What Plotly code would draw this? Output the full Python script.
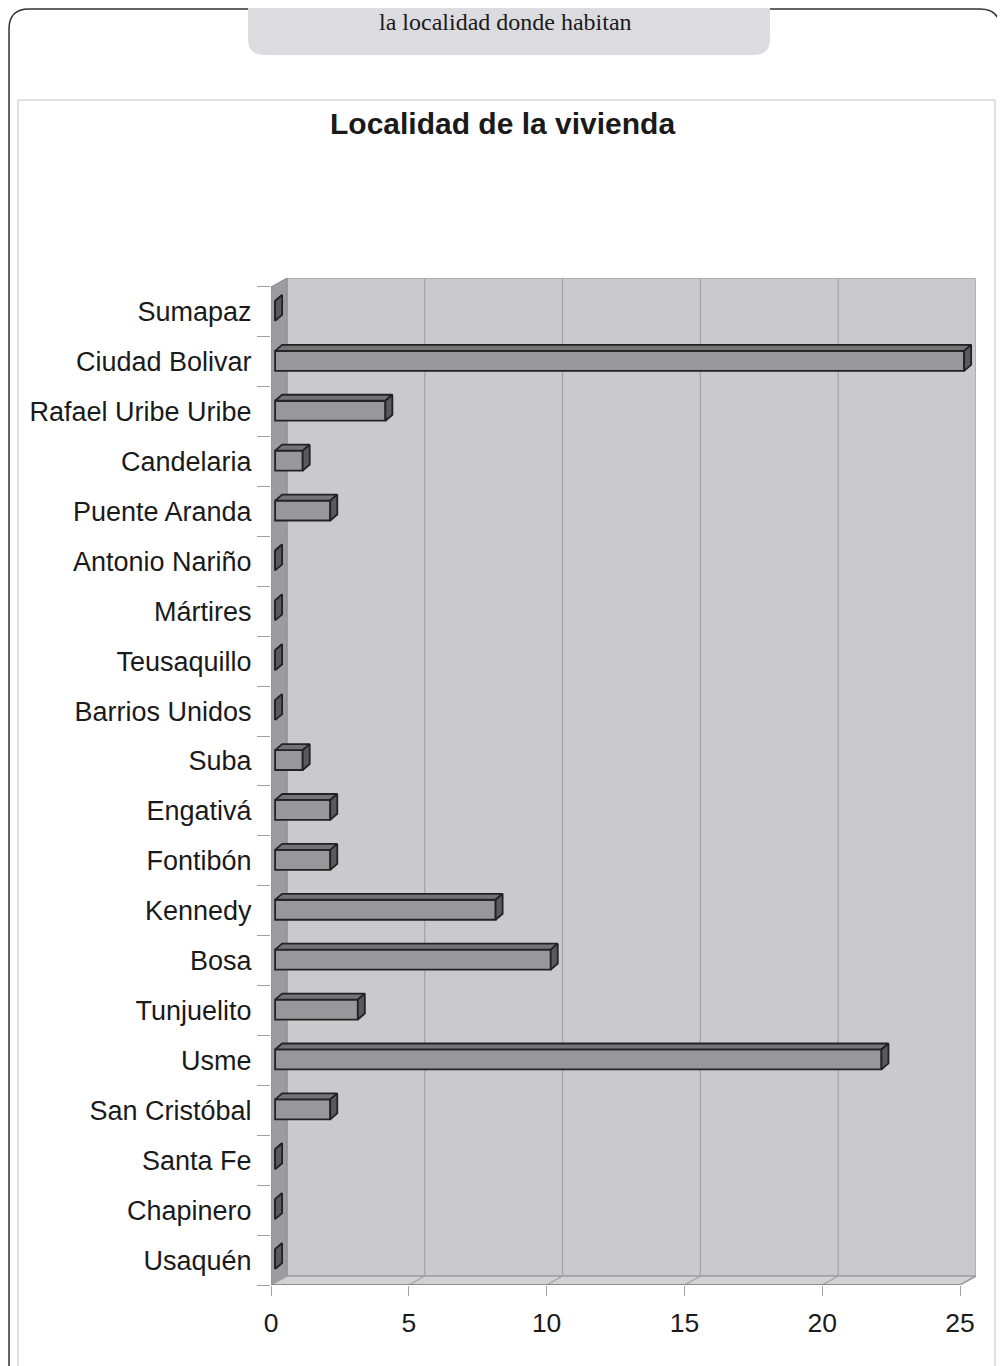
import plotly.graph_objects as go

# ---------------- data ----------------
localidades = ["Usaquén", "Chapinero", "Santa Fe", "San Cristóbal", "Usme",
               "Tunjuelito", "Bosa", "Kennedy", "Fontibón", "Engativá", "Suba",
               "Barrios Unidos", "Teusaquillo", "Mártires", "Antonio Nariño",
               "Puente Aranda", "Candelaria", "Rafael Uribe Uribe",
               "Ciudad Bolivar", "Sumapaz"]
estudiantes = [0, 0, 0, 2, 22, 3, 10, 8, 2, 2, 1, 0, 0, 0, 0, 2, 1, 4, 25, 0]
x_ticks = [0, 5, 10, 15, 20, 25]
titulo = "Localidad de la vivienda"
encabezado = "la localidad donde habitan"

# ---------------- geometry / style ----------------
OFF = 8                      # page body margin of the html output
W, H = 1005 - OFF, 1366 - OFF
PL, PR, PT, PB = 271, 976, 278, 1285   # plot area in window pixels
ML, MR, MT, MB = PL - OFF, W + OFF - PR, PT - OFF, H + OFF - PB
WX, WY = 0.58, 0.18          # depth of the 3D walls (data units)
DX, DY = 0.254, 0.12         # depth of the 3D bars
B0 = 0.15                    # bar start offset
LO, HI = -0.18, 0.22         # bar front face extent around category
XMAX = x_ticks[-1] + WX
YMIN, YMAX = -0.5, len(localidades) - 0.5 + WY
FONT = "Liberation Sans, Arial, sans-serif"

pos = list(range(len(localidades)))


def px(p):
    return (p - PL) / (PR - PL)


def py(p):
    return (PB - p) / (PB - PT)


fig = go.Figure()

# front faces of bars
fig.add_trace(go.Bar(
    orientation="h", y=pos, x=estudiantes, base=B0, width=HI - LO, offset=LO,
    marker=dict(color="#98989c", line=dict(color="#222222", width=1.8)),
    hoverinfo="skip", showlegend=False))

# top and side faces
top_x, top_y, side_x, side_y = [], [], [], []
for c, v in zip(pos, estudiantes):
    t = c + HI
    b = c + LO
    top_x += [B0, B0 + DX, B0 + v + DX, B0 + v, B0, None]
    top_y += [t, t + DY, t + DY, t, t, None]
    side_x += [B0 + v, B0 + v, B0 + v + DX, B0 + v + DX, B0 + v, None]
    side_y += [b, t, t + DY, b + DY, b, None]

fig.add_trace(go.Scatter(x=top_x, y=top_y, mode="lines", fill="toself",
                         fillcolor="#747478",
                         line=dict(color="#222222", width=1.8),
                         hoverinfo="skip", showlegend=False))
fig.add_trace(go.Scatter(x=side_x, y=side_y, mode="lines", fill="toself",
                         fillcolor="#5a5a5e",
                         line=dict(color="#222222", width=1.8),
                         hoverinfo="skip", showlegend=False))

shapes = []
# back wall
shapes.append(dict(type="rect", xref="x", yref="y", layer="below",
                   x0=WX, x1=XMAX, y0=YMIN + WY, y1=YMAX,
                   fillcolor="#cacacd", line=dict(color="#a8a8aa", width=1.5)))
# left wall
shapes.append(dict(type="path", xref="x", yref="y", layer="below",
                   path=f"M 0 {YMIN} L {WX} {YMIN + WY} L {WX} {YMAX} L 0 {YMAX - WY} Z",
                   fillcolor="#9c9ca0", line=dict(color="#8c8c90", width=1)))
# floor
shapes.append(dict(type="path", xref="x", yref="y", layer="below",
                   path=f"M 0 {YMIN} L {WX} {YMIN + WY} L {XMAX} {YMIN + WY} L {x_ticks[-1]} {YMIN} Z",
                   fillcolor="#d2d2d5", line=dict(color="#a0a0a3", width=1.5)))
# grid lines on back wall and floor
for t in x_ticks[1:-1]:
    shapes.append(dict(type="line", xref="x", yref="y", layer="below",
                       x0=t + WX, x1=t + WX, y0=YMIN + WY, y1=YMAX,
                       line=dict(color="#a2a2a4", width=1.2)))
for t in x_ticks[1:]:
    shapes.append(dict(type="line", xref="x", yref="y", layer="below",
                       x0=t, x1=t + WX, y0=YMIN, y1=YMIN + WY,
                       line=dict(color="#a2a2a4", width=1.2)))
# front floor edge
shapes.append(dict(type="line", xref="x", yref="y", layer="below",
                   x0=0, x1=x_ticks[-1], y0=YMIN, y1=YMIN,
                   line=dict(color="#8c8c8e", width=2)))

# page decorations: outer rounded frame, inner chart frame, header tab
r = 20
L, T, R, Bt = 9, 9, 1000, 1420
shapes.append(dict(type="path", xref="paper", yref="paper", layer="above",
                   path=(f"M {px(L)} {py(Bt)} L {px(L)} {py(T + r)} "
                         f"Q {px(L)} {py(T)} {px(L + r)} {py(T)} "
                         f"L {px(R - r)} {py(T)} Q {px(R)} {py(T)} {px(R)} {py(T + r)} "
                         f"L {px(R)} {py(Bt)}"),
                   line=dict(color="#333333", width=1.5)))
shapes.append(dict(type="rect", xref="paper", yref="paper", layer="above",
                   x0=px(18), x1=px(995), y0=py(1420), y1=py(100),
                   line=dict(color="#c4c4c4", width=1)))
hr = 16
HL, HR, HT, HB = 248, 770, -30, 55
shapes.append(dict(type="path", xref="paper", yref="paper", layer="above",
                   path=(f"M {px(HL)} {py(HT)} L {px(HL)} {py(HB - hr)} "
                         f"Q {px(HL)} {py(HB)} {px(HL + hr)} {py(HB)} "
                         f"L {px(HR - hr)} {py(HB)} Q {px(HR)} {py(HB)} {px(HR)} {py(HB - hr)} "
                         f"L {px(HR)} {py(HT)} Z"),
                   fillcolor="#dcdce0", line=dict(width=0)))

annotations = [
    dict(text=f"<b>{titulo}</b>", xref="paper", yref="paper",
         x=px(502), y=py(123), xanchor="center", yanchor="middle",
         showarrow=False, font=dict(family=FONT, size=30, color="#1a1a1a")),
    dict(text=encabezado, xref="paper", yref="paper",
         x=px(505), y=py(22), xanchor="center", yanchor="middle",
         showarrow=False,
         font=dict(family="Liberation Serif, Times New Roman, serif",
                   size=24, color="#1a1a1a")),
]

fig.update_layout(
    width=W, height=H,
    margin=dict(l=ML, r=MR, t=MT, b=MB, pad=0),
    paper_bgcolor="white", plot_bgcolor="rgba(0,0,0,0)",
    barmode="overlay", showlegend=False,
    shapes=shapes, annotations=annotations,
    xaxis=dict(range=[0, XMAX], tickvals=x_ticks, ticktext=[str(t) for t in x_ticks],
               showgrid=False, zeroline=False, showline=False,
               ticks="outside", ticklen=10, tickcolor="#a0a0a0", tickwidth=1.2,
               ticklabelstandoff=4,
               tickfont=dict(family=FONT, size=26.5, color="#1a1a1a"),
               fixedrange=True),
    yaxis=dict(range=[YMIN, YMAX], tickvals=pos, ticktext=localidades,
               showgrid=False, zeroline=False, showline=False,
               ticks="outside", ticklen=13, tickcolor="rgba(0,0,0,0)",
               tickfont=dict(family=FONT, size=27, color="#1a1a1a"),
               minor=dict(tickmode="array",
                          tickvals=[p - 0.5 for p in pos] + [pos[-1] + 0.5],
                          ticks="outside", ticklen=13, tickcolor="#a0a0a0",
                          tickwidth=1.2, showgrid=False),
               fixedrange=True),
)

fig.write_html("out.html")
